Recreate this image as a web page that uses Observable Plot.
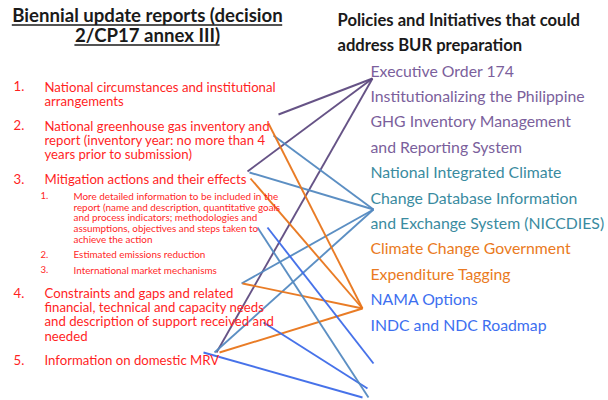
<!DOCTYPE html>
<html>
<head>
<meta charset="utf-8">
<script src="https://cdn.jsdelivr.net/npm/d3@7"></script>
<script src="https://cdn.jsdelivr.net/npm/@observablehq/plot@0.6"></script>
<style>
  html, body { margin: 0; padding: 0; background: #fff; }
  #chart svg { display: block; }
  g[aria-label="left-title"], g[aria-label="right-title"], g[aria-label="title-underline"] { filter: drop-shadow(1px 1px 0.6px rgba(0,0,0,0.25)); }
</style>
</head>
<body>
<div id="chart"></div>
<script>
// ---- Data ----
const leftTitle = ["Biennial update reports (decision", "2/CP17 annex III)"];
const rightTitle = ["Policies and Initiatives that could", "address BUR preparation"];

// BUR elements (level 0 = main item, level 1 = sub item)
const burItems = [
  { num: "1.", level: 0, lines: ["National circumstances and institutional", "arrangements"] },
  { num: "2.", level: 0, lines: ["National greenhouse gas inventory and", "report (inventory year: no more than 4", "years prior to submission)"] },
  { num: "3.", level: 0, lines: ["Mitigation actions and their effects"] },
  { num: "1.", level: 1, lines: ["More detailed information to be included in the", "report (name and description, quantitative goals", "and process indicators; methodologies and", "assumptions, objectives and steps taken to", "achieve the action"] },
  { num: "2.", level: 1, lines: ["Estimated emissions reduction"] },
  { num: "3.", level: 1, lines: ["International market mechanisms"] },
  { num: "4.", level: 0, lines: ["Constraints and gaps and related", "financial, technical and capacity needs", "and description of support received and", "needed"] },
  { num: "5.", level: 0, lines: ["Information on domestic MRV"] }
];

// Policies (text lines) and the policy each belongs to
const policyLines = [
  "Executive Order 174", "Institutionalizing the Philippine", "GHG Inventory Management", "and Reporting System",
  "National Integrated Climate", "Change Database Information", "and Exchange System (NICCDIES)",
  "Climate Change Government", "Expenditure Tagging",
  "NAMA Options", "INDC and NDC Roadmap"
];
const policyOfLine = ["EO174","EO174","EO174","EO174","NICCDIES","NICCDIES","NICCDIES","CCET","CCET","NAMA","INDC"];

// Hand-drawn connector lines (chart units)
const linkPolicy = ["EO174","EO174","EO174","NICCDIES","NICCDIES","NICCDIES","NICCDIES","CCET","CCET","CCET","CCET","NAMA","NAMA","NAMA","NICCDIES"];
const linkX1 = [278, 247, 216, 273, 249, 241, 214, 268, 250, 242, 219, 267, 263, 203, 257];
const linkY1 = [114, 171, 352, 135, 172, 283, 352, 123, 178, 283, 352, 227, 322, 352, 227];
const linkX2 = [372, 372, 372, 373, 373, 373, 373, 362, 362, 362, 362, 373, 367, 362, 368];
const linkY2 = [78, 78, 78, 209, 209, 209, 209, 308, 308, 308, 308, 363, 388, 397, 397];

// ---- Layout (derived) ----
const FONT = "Lato, 'Open Sans', sans-serif";
const lh = [14.2, 10.8], gap = [10.7, 4.5], fs = [13.2, 9.9];
const paragraphs = [];
let y = 86.5, prevLevel = null;
burItems.forEach((it) => {
  if (prevLevel !== null) y += (lh[prevLevel] + lh[it.level]) / 2 + gap[it.level];
  const first = y;
  y += (it.lines.length - 1) * lh[it.level];
  paragraphs.push({ num: it.num, level: it.level, yFirst: first, yMid: (first + y) / 2, text: it.lines.join("\n") });
  prevLevel = it.level;
});
const mains = paragraphs.filter(p => p.level === 0);
const subs = paragraphs.filter(p => p.level === 1);
const rightRows = policyLines.map((t, i) => ({ text: t, policy: policyOfLine[i], y: 71 + i * 25.4 }));
const links = linkPolicy.map((p, i) => ({ policy: p, x1: linkX1[i], y1: linkY1[i], x2: linkX2[i], y2: linkY2[i] }));

// title rows + underline extents measured from the font
const titleSize = 18.6, titleCx = 147;
const ctx = document.createElement("canvas").getContext("2d");
ctx.font = `bold ${titleSize}px Lato`;
const titleRows = leftTitle.map((t, i) => {
  const w = ctx.measureText(t).width;
  return { text: t, y: 15.5 + i * 20, x1: titleCx - w / 2, x2: titleCx + w / 2 };
});

const textColors = { EO174: "#7b5f9c", NICCDIES: "#3a8ba0", CCET: "#ea7a22", NAMA: "#3d6ff0", INDC: "#3d6ff0" };
const lineColors = { EO174: "#5e4a80", NICCDIES: "#5389c0", CCET: "#e8751a", NAMA: "#3d6ae8", INDC: "#3d6ae8" };
const red = "#ff1f1f";

const chart = Plot.plot({
  width: 608, height: 400,
  margin: 0,
  x: { domain: [0, 608], range: [0, 608], axis: null },
  y: { domain: [0, 400], range: [0, 400], axis: null },
  style: { fontFamily: FONT, background: "#fff" },
  marks: [
    // connectors
    Plot.link(links, { x1: "x1", y1: "y1", x2: "x2", y2: "y2", stroke: d => lineColors[d.policy], strokeWidth: 1.9, strokeOpacity: 0.95 }),
    // left title
    Plot.text(titleRows, { x: () => titleCx, y: "y", text: "text", fontSize: titleSize, fontWeight: "bold", fill: "#1a1a1a", textAnchor: "middle", ariaLabel: "left-title" }),
    Plot.ruleY(titleRows, { y: d => d.y + 9, x1: "x1", x2: "x2", stroke: "#1a1a1a", strokeWidth: 1.4, ariaLabel: "title-underline" }),
    // right title
    Plot.text(rightTitle, { x: () => 337, y: (d, i) => 20 + i * 25, text: d => d, fontSize: 16.6, fontWeight: "bold", fill: "#1a1a1a", textAnchor: "start", ariaLabel: "right-title" }),
    // numbers
    Plot.text(mains, { x: () => 13, y: "yFirst", text: "num", fontSize: fs[0], fill: red, textAnchor: "start" }),
    Plot.text(subs, { x: () => 40, y: "yFirst", text: "num", fontSize: 9.6, fill: red, textAnchor: "start" }),
    // paragraphs (multi-line)
    Plot.text(mains, { x: () => 44, y: "yMid", text: "text", fontSize: fs[0], lineHeight: lh[0] / fs[0], fill: red, textAnchor: "start" }),
    Plot.text(subs, { x: () => 73, y: "yMid", text: "text", fontSize: fs[1], lineHeight: lh[1] / fs[1], fill: red, textAnchor: "start" }),
    // right policy rows
    Plot.text(rightRows, { x: () => 370, y: "y", text: "text", fontSize: 15.8, fill: d => textColors[d.policy], textAnchor: "start" })
  ]
});
document.getElementById("chart").appendChild(chart);
</script>
</body>
</html>
